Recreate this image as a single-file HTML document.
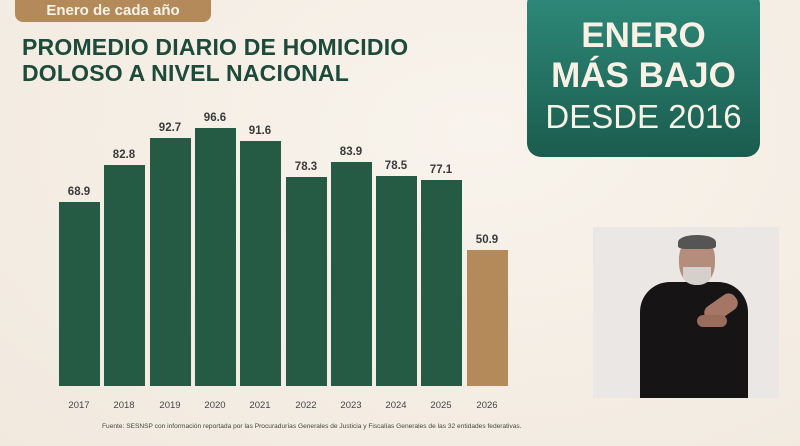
<!DOCTYPE html>
<html><head><meta charset="utf-8"><style>
body{margin:0;width:800px;height:446px;overflow:hidden;background:#f5efe6;font-family:"Liberation Sans",sans-serif;position:relative}
.a{position:absolute}
.bar{position:absolute;background:#255a45;width:41px}
.v{position:absolute;width:60px;text-align:center;font-size:11.5px;font-weight:bold;color:#3a3a3a}
.y{position:absolute;width:60px;text-align:center;font-size:9.5px;color:#444;top:400px}
</style></head><body>
<div class="a" style="left:0;top:0;width:800px;height:446px;background:radial-gradient(ellipse at 60% 30%,#f8f3ec,#f1e9de)"></div>
<div class="a" style="left:15px;top:-12px;width:196px;height:34px;background:#b48a5a;border-radius:8px;color:#fbf3e6;font-weight:bold;font-size:15px;text-align:center;line-height:22px;padding-top:12px;box-sizing:border-box">Enero de cada año</div>
<div class="a" style="left:22px;top:34px;color:#1d4a3a;font-weight:900;font-size:23px;line-height:26px;letter-spacing:0.2px">PROMEDIO DIARIO DE HOMICIDIO<br>DOLOSO A NIVEL NACIONAL</div>
<div class="a" style="left:527px;top:-10px;width:233px;height:167px;border-radius:14px;background:linear-gradient(#2e8a7a,#1b5c4e);color:#f8f1e6;text-align:center">
<div style="margin-top:26px;font-size:35px;font-weight:900;line-height:40px">ENERO<br>MÁS BAJO</div>
<div style="font-size:33px;line-height:42px">DESDE 2016</div></div>
<div class="bar" style="left:59px;top:202px;height:184px"></div>
<div class="bar" style="left:104px;top:165px;height:221px"></div>
<div class="bar" style="left:150px;top:138px;height:248px"></div>
<div class="bar" style="left:195px;top:128px;height:258px"></div>
<div class="bar" style="left:240px;top:141px;height:245px"></div>
<div class="bar" style="left:286px;top:177px;height:209px"></div>
<div class="bar" style="left:331px;top:162px;height:224px"></div>
<div class="bar" style="left:376px;top:176px;height:210px"></div>
<div class="bar" style="left:421px;top:180px;height:206px"></div>
<div class="bar" style="left:467px;top:250px;height:136px;background:#b48a5a"></div>
<div class="v" style="left:49px;top:186px">68.9</div>
<div class="v" style="left:94px;top:149px">82.8</div>
<div class="v" style="left:140px;top:122px">92.7</div>
<div class="v" style="left:185px;top:112px">96.6</div>
<div class="v" style="left:230px;top:125px">91.6</div>
<div class="v" style="left:276px;top:161px">78.3</div>
<div class="v" style="left:321px;top:146px">83.9</div>
<div class="v" style="left:366px;top:160px">78.5</div>
<div class="v" style="left:411px;top:164px">77.1</div>
<div class="v" style="left:457px;top:234px">50.9</div>
<div class="y" style="left:49px">2017</div><div class="y" style="left:94px">2018</div><div class="y" style="left:140px">2019</div><div class="y" style="left:185px">2020</div><div class="y" style="left:230px">2021</div><div class="y" style="left:276px">2022</div><div class="y" style="left:321px">2023</div><div class="y" style="left:366px">2024</div><div class="y" style="left:411px">2025</div><div class="y" style="left:457px">2026</div>
<div class="a" style="left:102px;top:423px;font-size:6.6px;color:#444;white-space:nowrap">Fuente: SESNSP con información reportada por las Procuradurías Generales de Justicia y Fiscalías Generales de las 32 entidades federativas.</div>
<div class="a" style="left:593px;top:227px;width:186px;height:171px;background:#ebe7e4;overflow:hidden">
<div class="a" style="left:47px;top:55px;width:108px;height:130px;background:#161414;border-radius:30px 30px 0 0"></div>
<div class="a" style="left:86px;top:10px;width:36px;height:48px;background:#b48d7c;border-radius:45%"></div>
<div class="a" style="left:85px;top:8px;width:38px;height:14px;background:#555;border-radius:50% 50% 20% 20%"></div>
<div class="a" style="left:90px;top:40px;width:28px;height:18px;background:#d5d0cc;border-radius:0 0 50% 50%"></div>
<div class="a" style="left:110px;top:72px;width:36px;height:18px;background:#a57565;border-radius:8px;transform:rotate(-35deg)"></div>
<div class="a" style="left:104px;top:88px;width:30px;height:12px;background:#9a6c5c;border-radius:6px"></div>
</div>
</body></html>
